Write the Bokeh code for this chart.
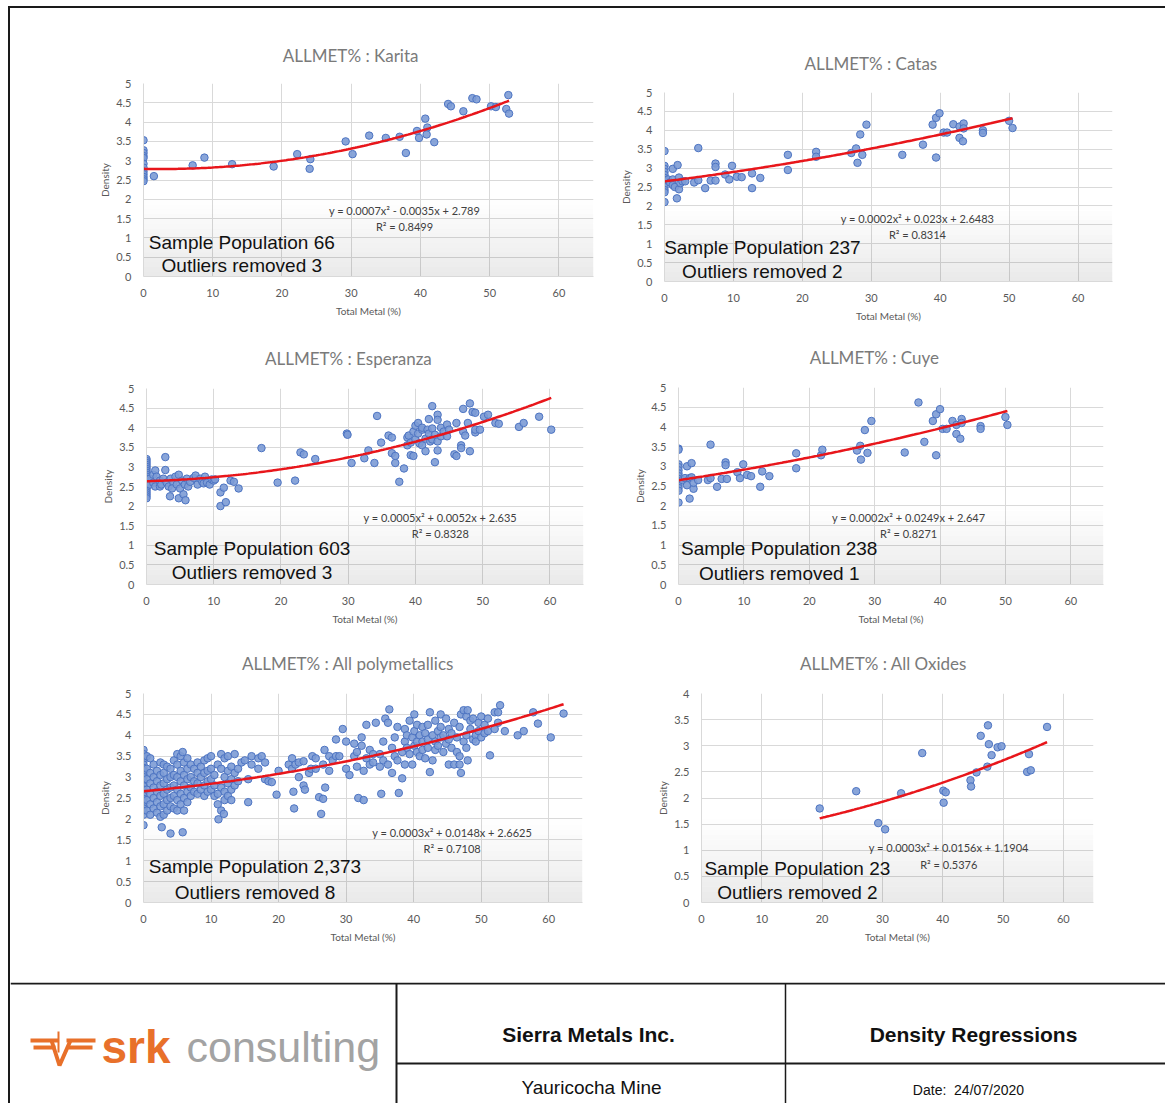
import numpy as np
from bokeh.plotting import figure
from bokeh.layouts import row, column
from bokeh.models import Range1d, FixedTicker, Spacer, Title
from bokeh.core.properties import value
from bokeh.embed import file_html
from bokeh.resources import INLINE

# ---------------------------------------------------------------- data
karita_pts = [
    (0, 3.53), (0, 3.27), (0, 3.2), (0, 3.12), (0, 3.07), (0, 2.92), (0, 2.82), (0, 2.72),
    (0, 2.65), (0, 2.58), (0, 2.52), (0, 2.47), (1.5, 2.6), (7.1, 2.88), (8.8, 3.08),
    (12.8, 2.91), (18.8, 2.85), (22.2, 3.17), (24.1, 3.04), (24.0, 2.79), (29.2, 3.5),
    (30.2, 3.17), (32.6, 3.65), (35.0, 3.59), (37.0, 3.62), (37.9, 3.2), (39.5, 3.77),
    (39.8, 3.59), (40.7, 4.09), (41.0, 3.86), (40.9, 3.68), (42.0, 3.48), (44.0, 4.47),
    (44.4, 4.41), (46.2, 4.28), (47.5, 4.62), (48.1, 4.59), (50.2, 4.41), (50.9, 4.39),
    (52.4, 4.34), (52.7, 4.7), (52.8, 4.22),
]

catas_pts = [
    (0, 3.45), (0, 3.06), (0, 2.98), (0, 2.9), (0, 2.82), (0, 2.74), (0, 2.66), (0, 2.58),
    (0, 2.5), (0, 2.42), (0, 2.36), (0, 2.1), (0.5, 2.7), (0.8, 2.62), (1.2, 2.98), (1.2, 2.7),
    (1.2, 2.55), (1.5, 2.5), (1.8, 2.2), (1.9, 3.08), (2.1, 2.75), (2.1, 2.44), (2.3, 2.6),
    (2.6, 2.65), (3.0, 2.65), (4.3, 2.62), (4.9, 3.53), (4.9, 2.68), (5.9, 2.47), (6.7, 2.67),
    (7.4, 3.12), (7.4, 3.03), (7.4, 2.67), (8.8, 2.83), (9.4, 2.7), (9.8, 3.06), (10.5, 2.77),
    (11.2, 2.76), (12.7, 2.47), (12.7, 2.86), (13.9, 2.74), (17.9, 3.35), (17.9, 2.95),
    (22.0, 3.43), (22.0, 3.3), (27.1, 3.4), (27.8, 3.52), (28.0, 3.14), (28.4, 3.89),
    (28.7, 3.35), (29.3, 4.15), (34.5, 3.35), (37.5, 3.62), (38.9, 4.15), (39.4, 4.33),
    (39.4, 3.28), (39.9, 4.45), (40.5, 3.94), (41.0, 3.94), (41.9, 4.16), (42.8, 4.1),
    (42.8, 3.8), (43.3, 3.71), (43.4, 4.18), (43.4, 4.05), (46.2, 4.0), (46.2, 3.93),
    (50.0, 4.25), (50.5, 4.06),
]

esperanza_pts = [
    (0, 3.2), (0, 3.15), (0, 3.1), (0, 3.05), (0, 3.0), (0, 2.95), (0, 2.9), (0, 2.85),
    (0, 2.8), (0, 2.75), (0, 2.7), (0, 2.65), (0, 2.6), (0, 2.55), (0, 2.5), (0, 2.45),
    (0, 2.4), (0, 2.35), (0, 2.3), (0, 2.25), (0, 2.2),
    (0.5, 2.7), (0.5, 2.55), (1.0, 2.6), (1.0, 2.8), (1.3, 2.91), (1.3, 2.5), (1.5, 2.75),
    (2.0, 2.65), (2.0, 2.5), (2.2, 2.55), (2.5, 2.7), (2.8, 3.25), (2.8, 2.92), (3.0, 2.6),
    (3.3, 2.5), (3.5, 2.25), (3.6, 2.7), (4.0, 2.6), (3.8, 2.45), (4.3, 2.75), (4.5, 2.55),
    (4.8, 2.8), (4.8, 2.2), (5.0, 2.45), (5.3, 2.65), (5.5, 2.3), (5.7, 2.55), (5.8, 2.15),
    (6.0, 2.7), (6.2, 2.5), (6.5, 2.62), (7.0, 2.72), (7.3, 2.78), (7.6, 2.55), (8.0, 2.7),
    (8.3, 2.62), (8.5, 2.58), (8.7, 2.75), (9.0, 2.6), (9.4, 2.55), (9.7, 2.68), (10.0, 2.65),
    (10.2, 2.68), (11.0, 2.0), (11.0, 2.35), (11.5, 2.47), (11.8, 2.1), (12.5, 2.65),
    (13.0, 2.62), (13.7, 2.45), (17.1, 3.48), (19.5, 2.6), (22.1, 2.65), (22.9, 3.37),
    (23.4, 3.32), (25.1, 3.2), (29.8, 3.85), (29.9, 3.82), (30.5, 3.1), (32.4, 3.22),
    (33.0, 3.42), (33.9, 3.1), (34.3, 4.3), (34.9, 3.62), (36.0, 3.8), (36.5, 3.35),
    (36.5, 3.75), (37.0, 3.1), (37.0, 3.28), (37.6, 2.62), (38.3, 2.96), (38.8, 3.75),
    (38.8, 3.55), (39.0, 3.8), (39.3, 3.3), (39.3, 3.62), (39.7, 3.28), (39.7, 3.9),
    (40.0, 4.05), (40.0, 3.7), (40.4, 4.12), (40.4, 3.85), (40.6, 3.6), (41.0, 3.55),
    (41.0, 3.95), (41.0, 4.0), (41.5, 3.4), (41.5, 3.72), (41.8, 3.95), (42.0, 4.22),
    (42.0, 3.85), (42.2, 3.65), (42.5, 4.55), (42.5, 3.98), (42.5, 3.7), (42.9, 3.12),
    (42.9, 3.82), (43.3, 4.33), (43.3, 4.2), (43.3, 3.42), (43.3, 3.65), (43.8, 4.0),
    (43.8, 3.78), (44.2, 3.9), (44.7, 4.08), (44.7, 3.78), (45.0, 3.95), (45.8, 3.32),
    (46.1, 4.12), (46.1, 3.28), (46.8, 3.55), (46.8, 3.48), (47.1, 4.48), (47.1, 3.9),
    (47.4, 3.8), (47.8, 4.12), (48.1, 4.62), (48.1, 3.4), (48.5, 4.4), (48.9, 4.38),
    (48.9, 3.88), (48.9, 3.95), (49.6, 3.95), (50.2, 4.28), (50.8, 4.33), (51.9, 4.12),
    (52.4, 4.1), (55.4, 4.02), (56.1, 4.12), (58.4, 4.28), (60.2, 3.95),
]

cuye_pts = [
    (0, 3.45), (0, 3.42), (0, 3.05), (0, 2.98), (0, 2.9), (0, 2.82), (0, 2.75), (0, 2.68),
    (0, 2.6), (0, 2.52), (0, 2.45), (0, 2.38), (0, 2.08), (0.6, 2.65), (1.0, 2.7), (1.3, 3.0),
    (1.3, 2.52), (1.7, 2.18), (1.7, 2.7), (2.0, 3.08), (2.0, 2.72), (2.3, 2.43), (2.3, 2.58),
    (3.0, 2.65), (4.5, 2.65), (4.9, 3.55), (4.9, 2.7), (5.9, 2.48), (6.6, 2.68), (7.2, 3.1),
    (7.2, 3.03), (7.4, 2.68), (9.0, 2.85), (9.4, 2.7), (9.9, 3.05), (10.5, 2.78), (11.1, 2.75),
    (12.5, 2.48), (12.8, 2.87), (13.9, 2.75), (18.0, 3.33), (18.0, 2.95), (21.8, 3.28),
    (22.0, 3.42), (27.3, 3.4), (27.8, 3.52), (27.9, 3.17), (28.5, 3.92), (28.9, 3.34),
    (29.5, 4.15), (34.6, 3.35), (36.7, 4.62), (37.6, 3.62), (38.9, 4.15), (39.4, 3.28),
    (39.4, 4.32), (40.0, 4.45), (40.4, 3.95), (41.0, 3.95), (41.9, 4.15), (42.5, 4.05),
    (42.5, 3.82), (43.1, 3.7), (43.3, 4.2), (43.3, 4.1), (46.2, 4.02), (46.2, 3.95),
    (50.0, 4.25), (50.3, 4.05),
]

poly_pts = [
    (0, 3.65), (0, 3.55), (0, 3.45), (0, 3.38), (0, 3.3), (0, 3.22), (0, 3.15), (0, 3.08),
    (0, 3.0), (0, 2.92), (0, 2.85), (0, 2.78), (0, 2.7), (0, 2.62), (0, 2.55), (0, 2.48),
    (0, 2.4), (0, 2.32), (0, 2.25), (0, 2.18), (0, 2.1), (0, 1.85),
    (0.5, 3.5), (0.5, 3.2), (0.5, 2.95), (0.5, 2.7), (0.5, 2.45), (0.5, 2.2),
    (1.0, 3.45), (1.0, 3.1), (1.0, 2.85), (1.0, 2.6), (1.0, 2.35), (1.0, 2.1),
    (1.5, 3.3), (1.5, 3.0), (1.5, 2.75), (1.5, 2.5), (1.5, 2.25),
    (2.0, 3.15), (2.0, 2.9), (2.0, 2.65), (2.0, 2.4), (2.0, 2.15),
    (2.5, 3.35), (2.5, 3.05), (2.5, 2.8), (2.5, 2.55), (2.5, 2.3), (2.5, 2.05), (2.7, 1.8),
    (3.0, 3.3), (3.0, 3.1), (3.0, 2.85), (3.0, 2.6), (3.0, 2.35), (3.0, 2.1),
    (3.5, 3.25), (3.5, 2.95), (3.5, 2.7), (3.5, 2.45), (3.5, 2.2),
    (4.0, 3.2), (4.0, 3.0), (4.0, 2.75), (4.0, 2.5), (4.0, 2.3), (4.0, 1.65),
    (4.5, 3.4), (4.5, 3.05), (4.5, 2.8), (4.5, 2.55), (4.5, 2.25),
    (5.0, 3.55), (5.0, 3.3), (5.0, 3.0), (5.0, 2.7), (5.0, 2.45), (5.0, 2.2),
    (5.5, 3.5), (5.5, 3.15), (5.5, 2.9), (5.5, 2.6), (5.5, 2.35), (5.8, 3.6), (5.8, 1.68),
    (6.0, 3.35), (6.0, 3.05), (6.0, 2.8), (6.0, 2.5), (6.0, 2.2),
    (6.5, 3.45), (6.5, 3.2), (6.5, 2.95), (6.5, 2.65), (6.5, 2.4),
    (7.0, 3.3), (7.0, 3.0), (7.0, 2.75), (7.0, 2.55), (7.5, 3.2), (7.5, 2.9), (7.5, 2.65),
    (8.0, 3.35), (8.0, 3.1), (8.0, 2.85), (8.0, 2.6), (8.5, 3.25), (8.5, 3.0), (8.5, 2.7),
    (9.0, 3.4), (9.0, 3.1), (9.0, 2.8), (9.0, 2.55), (9.5, 3.45), (9.5, 3.15), (9.5, 2.9),
    (9.5, 2.65), (10.0, 3.5), (10.0, 3.2), (10.0, 2.95), (10.0, 2.7), (10.5, 3.05),
    (10.5, 2.8), (10.5, 2.55), (11.0, 3.3), (11.0, 2.6), (11.0, 2.35), (11.1, 1.99),
    (11.5, 3.55), (11.5, 3.2), (11.5, 2.75), (11.5, 2.2), (12.0, 3.45), (12.0, 3.0),
    (12.0, 2.65), (12.0, 2.45), (11.9, 2.12), (12.5, 3.5), (12.5, 3.15), (12.5, 2.85),
    (12.5, 2.55), (13.0, 3.25), (13.0, 2.95), (13.0, 2.7), (13.0, 2.45), (13.5, 3.55),
    (13.5, 3.1), (13.5, 2.8), (14.0, 3.2), (14.0, 2.9), (14.5, 3.35), (15.0, 3.4),
    (15.5, 2.4), (15.5, 2.95), (16.0, 3.5), (16.0, 3.3), (17.0, 3.45), (17.0, 3.2),
    (17.5, 3.5), (18.0, 3.35), (18.0, 2.95), (18.5, 2.9), (19.0, 2.88), (19.7, 2.58),
    (20.0, 3.15), (21.5, 3.3), (22.0, 3.45), (22.0, 3.2), (22.2, 2.65), (22.3, 2.25),
    (22.5, 3.3), (23.0, 3.35), (23.0, 3.0), (23.7, 3.38), (23.7, 2.8), (23.9, 2.7),
    (24.5, 3.1), (24.8, 3.2), (25.0, 3.5), (25.5, 3.45), (25.5, 3.2), (26.0, 2.52),
    (26.3, 2.12), (26.6, 2.48), (26.6, 3.3), (26.9, 2.75), (26.8, 3.65), (27.5, 3.5),
    (27.5, 3.15), (28.0, 3.4), (28.5, 3.9), (28.5, 3.5), (29.0, 3.5), (29.5, 4.15),
    (30.0, 3.85), (30.0, 3.2), (30.5, 3.05), (31.2, 3.8), (31.2, 3.5), (31.6, 3.6),
    (31.6, 3.25), (31.8, 2.5), (32.3, 3.95), (32.3, 3.75), (32.6, 2.45), (32.6, 3.15),
    (33.0, 4.25), (33.0, 3.45), (33.5, 3.65), (33.5, 3.3), (34.0, 3.55), (34.0, 3.35),
    (34.4, 4.3), (35.0, 3.55), (35.0, 3.25), (35.2, 2.6), (35.5, 3.85), (35.5, 3.4),
    (35.8, 4.4), (36.2, 3.3), (36.2, 4.3), (36.4, 4.62), (36.8, 3.7), (36.8, 3.1),
    (37.2, 3.95), (37.2, 3.5), (37.6, 4.2), (37.6, 3.4), (37.8, 2.62), (38.3, 2.97),
    (38.3, 3.6), (38.7, 4.15), (38.7, 3.85), (38.7, 3.3), (39.0, 3.7), (39.0, 4.0),
    (39.4, 4.35), (39.4, 3.55), (39.8, 3.3), (39.8, 3.95), (40.1, 4.5), (40.1, 4.1),
    (40.1, 3.75), (40.5, 3.85), (40.5, 4.25), (40.5, 3.6), (40.9, 4.0), (40.9, 3.5),
    (41.3, 4.2), (41.3, 3.85), (41.3, 3.65), (41.7, 3.45), (41.7, 4.05), (42.1, 4.25),
    (42.1, 3.9), (42.1, 3.7), (42.4, 4.55), (42.4, 3.12), (42.8, 4.0), (42.8, 3.4),
    (43.2, 4.35), (43.2, 3.85), (43.2, 3.65), (43.6, 4.1), (43.6, 3.75), (44.0, 4.5),
    (44.0, 4.2), (44.0, 3.95), (44.4, 3.6), (44.4, 4.0), (44.8, 4.4), (44.8, 3.8),
    (45.2, 3.3), (45.2, 4.15), (45.2, 3.9), (45.6, 4.05), (45.6, 3.7), (46.0, 4.3),
    (46.0, 3.3), (46.4, 3.95), (46.4, 3.6), (46.8, 4.2), (46.8, 3.5), (46.8, 3.3),
    (47.0, 3.1), (47.0, 4.5), (47.4, 4.6), (47.4, 3.85), (47.8, 4.45), (47.8, 4.0),
    (47.8, 3.7), (48.0, 3.4), (48.0, 4.6), (48.4, 4.35), (48.4, 4.15), (48.8, 3.9),
    (48.8, 4.4), (49.2, 4.0), (49.2, 3.85), (49.6, 4.3), (49.6, 4.1), (50.0, 4.45),
    (50.0, 3.95), (50.5, 4.25), (50.5, 4.05), (51.0, 4.4), (51.0, 4.1), (51.3, 3.52),
    (52.0, 4.55), (52.0, 4.15), (52.5, 4.55), (52.5, 4.3), (52.8, 4.72), (53.5, 4.1),
    (55.4, 4.0), (56.3, 4.1), (57.7, 4.55), (58.4, 4.28), (60.3, 3.95), (62.2, 4.52),
]

oxides_pts = [
    (19.6, 1.8), (25.65, 2.13), (29.3, 1.52), (30.45, 1.4), (33.1, 2.09), (36.6, 2.86),
    (40.1, 2.14), (40.5, 2.11), (40.15, 1.91), (44.6, 2.34), (44.7, 2.22), (45.6, 2.49),
    (46.3, 3.19), (47.5, 3.39), (47.65, 3.03), (47.4, 2.6), (48.1, 2.82), (49.1, 2.97),
    (49.75, 2.99), (54.0, 2.5), (54.3, 2.84), (54.6, 2.53), (57.3, 3.36),
]

names = ["Karita", "Catas", "Esperanza", "Cuye", "All polymetallics", "All Oxides"]
points = [karita_pts, catas_pts, esperanza_pts, cuye_pts, poly_pts, oxides_pts]
# quadratic trend coefficients (x^2, x, constant) and fit quality
coefs = [
    (0.0007, -0.0035, 2.789),
    (0.0002, 0.023, 2.6483),
    (0.0005, 0.0052, 2.635),
    (0.0002, 0.0249, 2.647),
    (0.0003, 0.0148, 2.6625),
    (0.0003, 0.0156, 1.1904),
]
r_squared = [0.8499, 0.8314, 0.8328, 0.8271, 0.7108, 0.5376]
population = [66, 237, 603, 238, 2373, 23]
outliers = [3, 2, 3, 1, 8, 2]
y_max = [5, 5, 5, 5, 5, 4]
x_ticks = [0, 10, 20, 30, 40, 50, 60]

# ---------------------------------------------------------------- styling / placement
# canvas width, height, min borders (left, right, top, bottom)
boxes = [
    (598, 316, 133, 15, 75, 48),
    (557, 316, 56, 53, 84, 41),
    (598, 303, 136, 25, 64, 40),
    (557, 303, 70, 62, 63, 40),
    (598, 355, 133, 26, 66, 80),
    (557, 355, 93, 72, 66, 80),
]
# title standoff (px), equation centre (x, y, y2), note centre (x, y, y2), shaded box top
places = [
    (36, (37.7, 1.71, 1.30), (14.2, 0.89, 0.29), 2.0),
    (38, (36.7, 1.67, 1.25), (14.2, 0.90, 0.27), 2.0),
    (40, (43.7, 1.70, 1.31), (15.7, 0.93, 0.31), 2.0),
    (39, (35.2, 1.69, 1.29), (15.4, 0.92, 0.29), 2.0),
    (40, (45.7, 1.67, 1.29), (16.5, 0.85, 0.25), 2.0),
    (40, (41.0, 1.05, 0.73), (15.9, 0.66, 0.20), 1.6),
]
TITLE_CENTER_X = 29.6   # title centred over this x value

FONT = "Lato"
GRID = "#d9d9d9"
TICK_TXT = "#595959"
MARK_FILL = "#7c9bd5"
MARK_LINE = "#4d74c2"
TREND = "#e8161b"
TITLE_PX = 17

# approximate advance widths (em) of Lato glyphs, used to centre the titles
LATO_EM = {
    "A": .68, "L": .52, "M": .87, "E": .57, "T": .59, "%": .78, " ": .19, ":": .25,
    "K": .66, "a": .49, "r": .36, "i": .23, "t": .33, "C": .67, "s": .40, "p": .53,
    "e": .50, "n": .53, "z": .45, "u": .53, "y": .48, "l": .23, "o": .55, "m": .80,
    "c": .45, "O": .77, "x": .48, "d": .53, "P": .58,
}


def text_width(s, px):
    return sum(LATO_EM.get(ch, 0.5) for ch in s) * px


def fmt(v):
    return f"{v:g}"


def equation_text(c):
    a, b, k = c
    s = f"y = {fmt(a)}x\u00b2 "
    s += ("- " if b < 0 else "+ ") + f"{fmt(abs(b))}x "
    s += ("- " if k < 0 else "+ ") + fmt(abs(k))
    return s


def make_chart(i):
    w, h, bl, br, bt, bb = boxes[i]
    ymax = y_max[i]
    tgap, eq, note, shade_top = places[i]
    frame_w = w - bl - br
    title = f"ALLMET% : {names[i]}"
    t_left = TITLE_CENTER_X / 65 * frame_w - text_width(title, TITLE_PX) / 2

    p = figure(width=w, height=h, x_range=Range1d(0, 65), y_range=Range1d(0, ymax),
               output_backend="svg", toolbar_location=None, tools="",
               min_border_left=bl, min_border_right=br, min_border_top=bt, min_border_bottom=bb,
               title=Title(text=title, align="left", offset=t_left, standoff=tgap,
                           text_font=FONT, text_font_size=f"{TITLE_PX}px",
                           text_font_style="normal", text_color="#7a7a7a"))
    p.outline_line_color = None
    p.background_fill_color = "white"
    p.border_fill_color = "white"

    y_ticks = [j * 0.5 for j in range(int(ymax * 2) + 1)]
    p.xaxis.ticker = FixedTicker(ticks=x_ticks)
    p.yaxis.ticker = FixedTicker(ticks=y_ticks)
    p.xaxis.major_label_overrides = {t: fmt(t) for t in x_ticks}
    p.yaxis.major_label_overrides = {t: fmt(t) for t in y_ticks}
    for ax in (p.xaxis, p.yaxis):
        ax.axis_line_color = GRID
        ax.major_tick_line_color = None
        ax.minor_tick_line_color = None
        ax.major_label_text_font = FONT
        ax.major_label_text_font_size = "11px"
        ax.major_label_text_color = TICK_TXT
        ax.axis_label_text_font = FONT
        ax.axis_label_text_font_size = "10px"
        ax.axis_label_text_font_style = "normal"
        ax.axis_label_text_color = TICK_TXT
    p.xaxis.axis_label = "Total Metal (%)"
    p.yaxis.axis_label = "Density"
    p.xaxis.major_label_standoff = 6
    p.yaxis.major_label_standoff = 6
    p.xaxis.axis_label_standoff = 5
    p.yaxis.axis_label_standoff = 2
    p.grid.grid_line_color = GRID
    p.grid.grid_line_width = 1

    # soft shaded text box at the bottom of the plot area
    nb = 16
    bot = [shade_top * k / nb for k in range(nb)]
    top = [shade_top * (k + 1) / nb for k in range(nb)]
    alph = [0.085 * (1 - (k + 0.5) / nb) for k in range(nb)]
    p.quad(left=0, right=65, bottom=bot, top=top, fill_color="black", fill_alpha=alph,
           line_color=None)

    xs = [pt[0] for pt in points[i]]
    ys = [pt[1] for pt in points[i]]
    p.scatter(xs, ys, size=7.5, marker="circle", fill_color=MARK_FILL, fill_alpha=0.9,
              line_color=MARK_LINE, line_width=1)

    a, b, k = coefs[i]
    tx = np.linspace(min(xs), max(xs), 160)
    p.line(tx, a * tx ** 2 + b * tx + k, line_color=TREND, line_width=2.5)

    p.text(x=[eq[0], eq[0]], y=[eq[1], eq[2]],
           text=[equation_text(coefs[i]), f"R\u00b2 = {r_squared[i]:.4f}"],
           text_align="center", text_baseline="middle", text_font=value(FONT),
           text_font_size="11px", text_color="#404040")
    p.text(x=[note[0], note[0]], y=[note[1], note[2]],
           text=[f"Sample Population {population[i]:,}", f"Outliers removed {outliers[i]}"],
           text_align="center", text_baseline="middle", text_font=value("Liberation Sans"),
           text_font_size="19px", text_color="#111111")
    # wrapped on its own so neighbouring charts keep independent frame positions
    return column(p)


charts = [make_chart(i) for i in range(6)]

# ---------------------------------------------------------------- title block
foot = figure(width=1155, height=121, x_range=Range1d(10, 1165), y_range=Range1d(1103, 982),
              output_backend="svg", toolbar_location=None, tools="",
              x_axis_location=None, y_axis_location=None, min_border=0)
foot.outline_line_color = None
foot.grid.visible = False
foot.border_fill_color = "white"

foot.segment(x0=[10, 396, 785, 396], y0=[983, 983, 983, 1063],
             x1=[1165, 396, 785, 1165], y1=[983, 1103, 1103, 1063],
             line_color="#1a1a1a", line_width=[2, 2, 1.5, 2])

ORANGE = "#e8702a"
foot.multi_line(xs=[[30, 58], [33, 55], [51, 59, 70], [58, 58], [66, 95], [68, 92]],
                ys=[[1040, 1040], [1047, 1047], [1040, 1065, 1040], [1031, 1052],
                    [1040, 1040], [1047, 1047]],
                line_color=ORANGE, line_width=[4, 4, 4, 2, 4, 4])
foot.text(x=[101], y=[1046], text=["srk"], text_font=value("Liberation Sans"),
          text_font_style="bold", text_font_size="46px", text_color=ORANGE,
          text_baseline="middle")
foot.text(x=[186], y=[1046], text=["consulting"], text_font=value("Liberation Sans"),
          text_font_size="43px", text_color="#a3a3a3", text_baseline="middle")
foot.text(x=[588, 973], y=[1034, 1034], text=["Sierra Metals Inc.", "Density Regressions"],
          text_font=value("Liberation Sans"), text_font_style="bold", text_font_size="21px",
          text_color="#111111", text_align="center", text_baseline="middle")
foot.text(x=[591], y=[1087], text=["Yauricocha Mine"], text_font=value("Liberation Sans"),
          text_font_size="19px", text_color="#111111", text_align="center",
          text_baseline="middle")
foot.text(x=[968], y=[1089], text=["Date:\u00a0\u00a024/07/2020"],
          text_font=value("Liberation Sans"), text_font_size="14px", text_color="#111111",
          text_align="center", text_baseline="middle")

# ---------------------------------------------------------------- page
bar_v = Spacer(width=2, height=1097, styles={"background-color": "#1a1a1a"})
bar_h = Spacer(width=1155, height=2, styles={"background-color": "#1a1a1a"})
body = column(bar_h, row(charts[0], charts[1]), row(charts[2], charts[3]),
              row(charts[4], charts[5]), foot)
page = column(Spacer(width=1165, height=6), row(Spacer(width=8, height=1097), bar_v, body))

open("out.html", "w").write(file_html(page, INLINE))
